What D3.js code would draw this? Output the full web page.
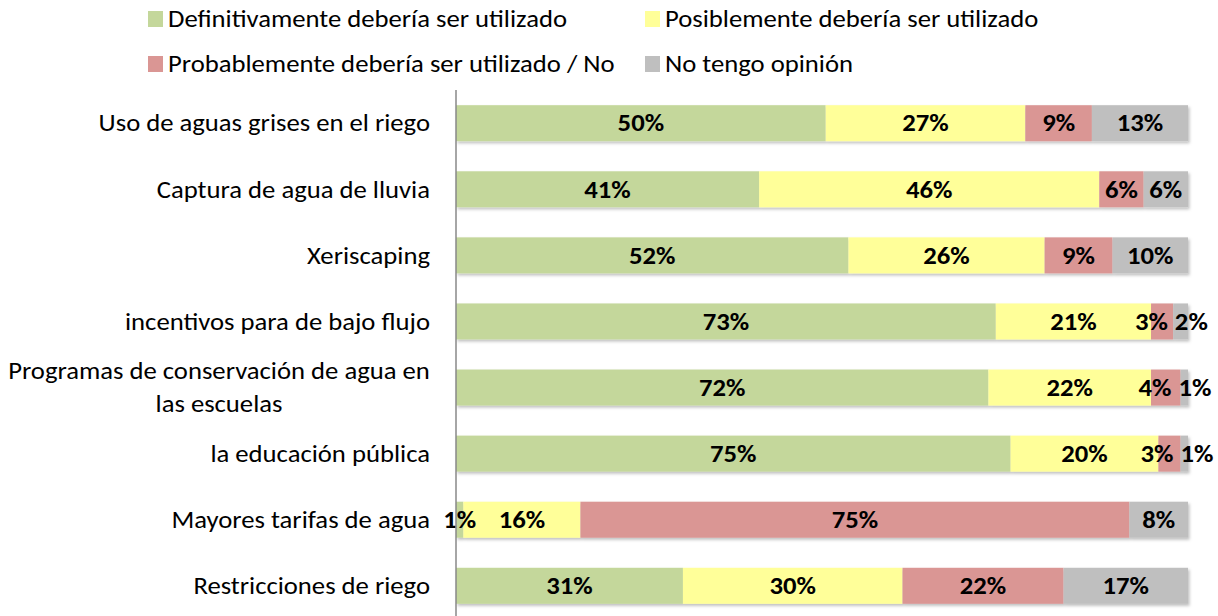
<!DOCTYPE html>
<html>
<head>
<meta charset="utf-8">
<script src="https://cdn.jsdelivr.net/npm/d3@7"></script>
<style>
  body { margin: 0; background: #fff; }
  svg text { font-family: Carlito, Lato, sans-serif; }
</style>
</head>
<body>
<svg id="chart"></svg>
<script>
// Categories (top to bottom) and answers
const categories = [
  ["Uso de aguas grises en el riego"],
  ["Captura de agua de lluvia"],
  ["Xeriscaping"],
  ["incentivos para de bajo flujo"],
  ["Programas de conservación de agua en", "las escuelas"],
  ["la educación pública"],
  ["Mayores tarifas de agua"],
  ["Restricciones de riego"]
];
const seriesNames = [
  "Definitivamente debería ser utilizado",
  "Posiblemente debería ser utilizado",
  "Probablemente debería ser utilizado / No",
  "No tengo opinión"
];
const colors = ["#c4d79b", "#ffff99", "#da9694", "#bfbfbf"];

// percentages per series, one value per category
const definitivamente = [50, 41, 52, 73, 72, 75, 1, 31];
const posiblemente    = [27, 46, 26, 21, 22, 20, 16, 30];
const probablemente   = [9, 6, 9, 3, 4, 3, 75, 22];
const sinOpinion      = [13, 6, 10, 2, 1, 1, 8, 17];

const width = 1218, height = 616;
const fontSize = 23.5;
const sx = 1.135; // the original text is a little wider than the font
const svg = d3.select("#chart").attr("width", width).attr("height", height);

// text placed at (tx, ty) and widened horizontally
function addText(parent, tx, ty, str, anchor, bold) {
  const g = parent.append("g").attr("transform", `translate(${tx},${ty}) scale(${sx},1)`);
  const t = g.append("text")
    .attr("dy", "0.35em")
    .attr("text-anchor", anchor)
    .attr("font-size", fontSize)
    .attr("font-weight", bold ? "bold" : "normal")
    .attr("fill", "#000")
    .text(str);
  return { g, t, w: t.node().getComputedTextLength() * sx };
}

// build rows for d3.stack
const keys = ["s0", "s1", "s2", "s3"];
const rows = categories.map((c, i) => ({
  idx: i,
  s0: definitivamente[i], s1: posiblemente[i], s2: probablemente[i], s3: sinOpinion[i]
}));
const stacked = d3.stack().keys(keys).offset(d3.stackOffsetExpand)(rows);

const x = d3.scaleLinear().domain([0, 1]).range([456, 1188]);
const y = d3.scaleBand().domain(d3.range(categories.length)).range([90, 619]).paddingInner(0.455).paddingOuter(0.23);

// shadow filter
const defs = svg.append("defs");
const f = defs.append("filter").attr("id", "shadow").attr("x", "-5%").attr("y", "-20%").attr("width", "110%").attr("height", "150%");
f.append("feDropShadow").attr("dx", 1.5).attr("dy", 2).attr("stdDeviation", 1.5).attr("flood-color", "#000").attr("flood-opacity", 0.25);

// bars
const barGroup = svg.append("g").attr("filter", "url(#shadow)");
stacked.forEach((layer, si) => {
  barGroup.selectAll(".bar-" + si)
    .data(layer)
    .enter()
    .append("rect")
    .attr("x", d => x(d[0]))
    .attr("y", d => y(d.data.idx))
    .attr("width", d => x(d[1]) - x(d[0]))
    .attr("height", y.bandwidth())
    .attr("fill", colors[si]);
});

// data labels, centred in each segment, then spread apart where they collide
const labelGroup = svg.append("g");
rows.forEach((row, i) => {
  const cy = y(i) + y.bandwidth() / 2;
  const labels = stacked.map((layer, si) => {
    const d = layer[i];
    const l = addText(labelGroup, 0, cy, row[keys[si]] + "%", "middle", true);
    l.cx = (x(d[0]) + x(d[1])) / 2;
    return l;
  });
  const gap = 7;
  for (let pass = 0; pass < 5; pass++) {
    for (let k = 0; k < labels.length - 1; k++) {
      const a = labels[k], b = labels[k + 1];
      const overlap = (a.cx + a.w / 2 + gap) - (b.cx - b.w / 2);
      if (overlap > 0) { a.cx -= overlap / 2; b.cx += overlap / 2; }
    }
  }
  labels.forEach(l => l.g.attr("transform", `translate(${l.cx},${cy}) scale(${sx},1)`));
});

// axis line
svg.append("line")
  .attr("x1", 456).attr("x2", 456)
  .attr("y1", 90).attr("y2", height)
  .attr("stroke", "#888").attr("stroke-width", 1.5);

// category labels
categories.forEach((lines, i) => {
  const cy = y(i) + y.bandwidth() / 2;
  if (lines.length === 1) {
    addText(svg, 430, cy, lines[0], "end", false);
  } else {
    lines.forEach((ln, j) => {
      addText(svg, 219, cy + (j - 0.5) * 33, ln, "middle", false);
    });
  }
});

// legend
const legendPos = [[148, 19], [645, 19], [148, 64], [645, 64]];
seriesNames.forEach((name, i) => {
  const [lx, ly] = legendPos[i];
  svg.append("rect")
    .attr("x", lx).attr("y", ly - 8)
    .attr("width", 15).attr("height", 16)
    .attr("fill", colors[i]);
  addText(svg, lx + 20, ly, name, "start", false);
});
</script>
</body>
</html>
